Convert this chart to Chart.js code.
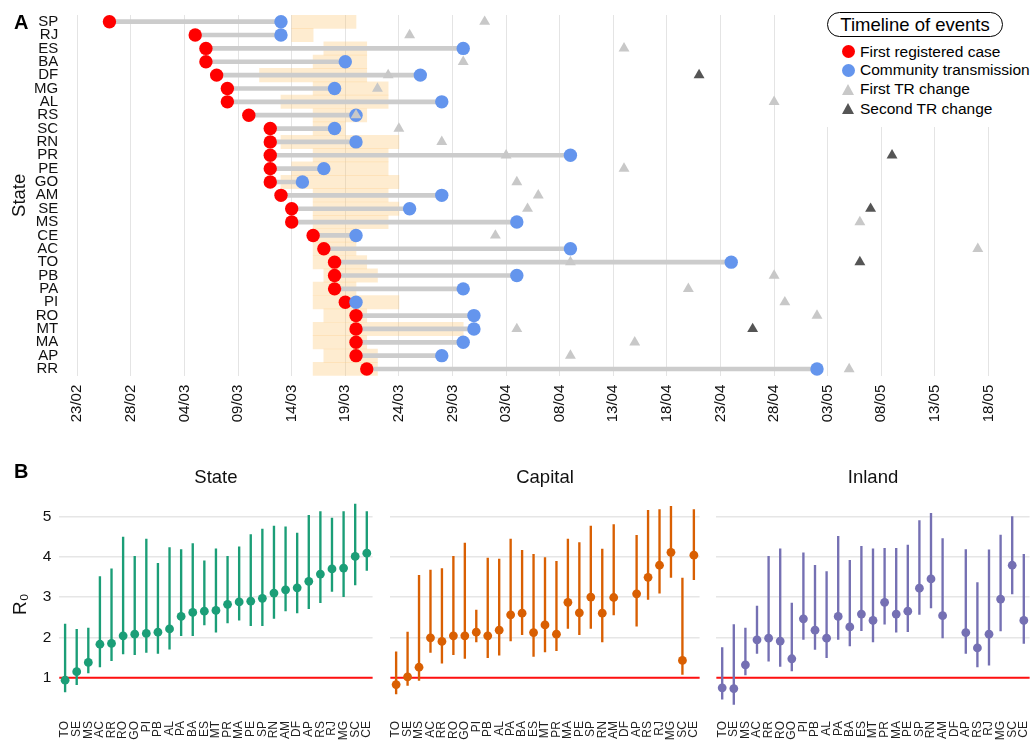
<!DOCTYPE html>
<html><head><meta charset="utf-8">
<script src="https://cdn.jsdelivr.net/npm/chart.js@4.4.1/dist/chart.umd.min.js"></script>
<style>
html,body{margin:0;padding:0;background:#fff;}
body{width:1034px;height:741px;position:relative;overflow:hidden;font-family:'Liberation Sans',Arial,Helvetica,sans-serif;color:#000;}
canvas{position:absolute;display:block;}
.tag{position:absolute;left:14px;font-weight:bold;font-size:20px;line-height:20px;}
#legendBg{position:absolute;left:824px;top:0;width:210px;height:127px;background:#fff;}
.pill{position:absolute;left:827px;top:12px;width:174px;height:23px;border:1px solid #000;border-radius:13px;font-size:18.5px;line-height:23px;text-align:center;white-space:nowrap;}
.item{position:absolute;left:860px;font-size:15.5px;line-height:18px;white-space:nowrap;}
.dot{position:absolute;left:842px;width:13px;height:13px;border-radius:50%;}
.tri{position:absolute;left:842px;width:0;height:0;border-left:6.5px solid transparent;border-right:6.5px solid transparent;border-bottom:11px solid #c8c8c8;}
</style></head>
<body>
<canvas id="cA" width="1034" height="440" style="left:0;top:0;width:1034px;height:440px"></canvas>
<canvas id="cB1" width="377" height="291" style="left:0;top:450px;width:377px;height:291px"></canvas>
<canvas id="cB2" width="318" height="291" style="left:386px;top:450px;width:318px;height:291px"></canvas>
<canvas id="cB3" width="322" height="291" style="left:712px;top:450px;width:322px;height:291px"></canvas>

<div class="tag" style="top:12.4px">A</div>
<div class="tag" style="top:461.4px">B</div>

<div id="legendBg"></div>
<div class="pill">Timeline of events</div>
<div class="dot" style="top:45.2px;background:#ff0000"></div>
<div class="item" style="top:42.9px">First registered case</div>
<div class="dot" style="top:63.5px;background:#6495ed"></div>
<div class="item" style="top:61.2px">Community transmission</div>
<div class="tri" style="top:83.5px;border-bottom-color:#c8c8c8"></div>
<div class="item" style="top:80.2px">First TR change</div>
<div class="tri" style="top:102.8px;border-bottom-color:#555555"></div>
<div class="item" style="top:99.5px">Second TR change</div>

<script>
// ---------------- Panel A data ----------------
const states = ['SP','RJ','ES','BA','DF','MG','AL','RS','SC','RN','PR','PE','GO','AM','SE','MS','CE','AC','TO','PB','PA','PI','RO','MT','MA','AP','RR'];
const firstCase = ['26/02','05/03','06/03','06/03','07/03','08/03','08/03','10/03','12/03','12/03','12/03','12/03','12/03','13/03','14/03','14/03','16/03','17/03','18/03','18/03','18/03','19/03','20/03','20/03','20/03','20/03','21/03'];
const communityTransmission = ['13/03','13/03','30/03','19/03','26/03','18/03','28/03','20/03','18/03','20/03','09/04','17/03','15/03','28/03','25/03','04/04','20/03','09/04','24/04','04/04','30/03','20/03','31/03','31/03','30/03','28/03','02/05'];
const firstTRChange = ['01/04','25/03','14/04','30/03','23/03','22/03','28/04','20/03','24/03','28/03','03/04','14/04','04/04','06/04','05/04','06/05','02/04','17/05','09/04','28/04','20/04','29/04','02/05','04/04','15/04','09/04','05/05'];
const secondTRChange = [null,null,null,null,'21/04',null,null,null,null,null,'09/05',null,null,null,'07/05',null,null,null,'06/05',null,null,null,null,'26/04',null,null,null];
const windowStart = ['14/03','14/03','17/03','16/03','11/03','16/03','13/03','16/03','16/03','13/03','16/03','14/03','13/03','16/03','16/03','16/03','16/03','16/03','16/03','17/03','16/03','16/03','17/03','16/03','16/03','17/03','16/03'];
const windowEnd = ['20/03','16/03','21/03','21/03','21/03','23/03','23/03','21/03','19/03','24/03','23/03','23/03','24/03','23/03','24/03','23/03','20/03','20/03','21/03','22/03','20/03','24/03','21/03','30/03','21/03','22/03','22/03'];
const dateTickLabels = ['23/02','28/02','04/03','09/03','14/03','19/03','24/03','29/03','03/04','08/04','13/04','18/04','23/04','28/04','03/05','08/05','13/05','18/05'];

// ---------------- Panel B data ----------------
const r0States = ['TO','SE','MS','AC','RR','RO','GO','PI','PB','AL','PA','BA','ES','MT','PR','MA','PE','SP','RN','AM','DF','AP','RS','RJ','MG','SC','CE'];
const stateMid  = [0.94,1.15,1.38,1.83,1.85,2.04,2.08,2.10,2.13,2.21,2.52,2.62,2.65,2.67,2.82,2.88,2.90,2.97,3.10,3.18,3.23,3.39,3.57,3.70,3.72,4.01,4.09];
const stateLow  = [0.65,0.83,1.12,1.27,1.42,1.59,1.57,1.63,1.60,1.71,2.04,2.04,2.31,2.13,2.36,2.43,2.29,2.29,2.47,2.66,2.61,2.71,2.86,3.14,3.01,3.30,3.66];
const stateHigh = [2.33,2.20,2.23,3.51,3.70,4.49,4.01,4.44,3.84,4.23,4.18,4.33,3.90,4.20,4.01,4.25,4.55,4.69,4.76,4.74,4.59,5.03,5.12,4.96,5.12,5.31,5.12];
const capitalMid  = [0.83,1.02,1.26,1.99,1.90,2.04,2.04,2.13,2.04,2.18,2.56,2.60,2.12,2.31,2.08,2.87,2.61,3.00,2.60,2.99,null,3.08,3.49,3.79,4.11,1.43,4.04];
const capitalLow  = [0.60,0.81,0.93,1.63,1.36,1.57,1.48,1.89,1.50,1.56,1.91,2.07,1.53,1.64,1.67,2.22,2.07,2.22,1.89,2.56,null,2.28,2.94,3.10,3.49,1.08,3.43];
const capitalHigh = [1.64,2.13,3.54,3.67,3.71,4.01,4.34,2.68,3.97,3.94,4.44,4.16,4.06,3.98,3.89,4.44,4.35,4.76,4.19,4.80,null,4.53,5.15,5.17,5.25,3.47,5.17];
const inlandMid  = [0.75,0.73,1.32,1.94,1.98,1.91,1.47,2.46,2.18,1.98,2.52,2.26,2.58,2.42,2.87,2.58,2.65,3.22,3.45,2.54,null,2.12,1.74,2.08,2.95,3.79,2.42];
const inlandLow  = [0.47,0.34,1.07,1.60,1.41,1.28,1.17,1.95,1.70,1.50,1.95,1.79,2.17,1.89,2.33,2.13,2.14,2.57,2.73,1.99,null,1.60,1.27,1.31,2.16,3.08,1.85];
const inlandHigh = [1.75,2.32,2.23,2.78,4.01,4.20,2.85,4.10,3.79,3.63,4.51,3.91,4.26,4.20,4.21,4.21,4.29,4.90,5.08,4.45,null,4.18,3.36,4.17,4.54,5.00,4.06];
const r0TickValues = [1,2,3,4,5];
const R0_THRESHOLD = 1;

// ---------------- helpers ----------------
const ORIGIN = Date.UTC(2020,1,23);
function dayOf(s){ const [d,m] = s.split('/').map(Number); return Math.round((Date.UTC(2020,m-1,d)-ORIGIN)/86400000); }
const dateTickDays = dateTickLabels.map(dayOf);

Chart.defaults.font.family = "'Liberation Sans', Arial, Helvetica, sans-serif";
Chart.defaults.color = '#111';
Chart.defaults.animation = false;
Chart.defaults.events = [];
Chart.defaults.plugins.legend.display = false;
Chart.defaults.plugins.tooltip.enabled = false;

function pts(arr){ return states.map((s,i)=> arr[i] ? {x: dayOf(arr[i]), y: s} : null).filter(p=>p); }

// ---------------- Panel A ----------------
new Chart(document.getElementById('cA'), {
  type: 'bar',
  data: {
    labels: states,
    datasets: [
      { type:'scatter', indexAxis:'x', data: pts(secondTRChange), pointStyle:'triangle', pointRadius:6.3, backgroundColor:'#555555', borderWidth:0, order:0 },
      { type:'scatter', indexAxis:'x', data: pts(firstTRChange), pointStyle:'triangle', pointRadius:6.3, backgroundColor:'#c8c8c8', borderWidth:0, order:1 },
      { type:'scatter', indexAxis:'x', data: pts(communityTransmission), pointRadius:6.7, backgroundColor:'#6495ed', borderWidth:0, order:2 },
      { type:'scatter', indexAxis:'x', data: pts(firstCase), pointRadius:6.7, backgroundColor:'#ff0000', borderWidth:0, order:3 },
      { type:'bar', indexAxis:'y', data: states.map((s,i)=>[dayOf(firstCase[i]), dayOf(communityTransmission[i])]), backgroundColor:'#cccccc', barThickness:4, grouped:false, borderWidth:0, order:4 },
      { type:'bar', indexAxis:'y', data: states.map((s,i)=>[dayOf(windowStart[i]), dayOf(windowEnd[i])]), backgroundColor:'rgba(253,200,120,0.35)', barPercentage:1, categoryPercentage:1, grouped:false, borderWidth:0, order:5 }
    ]
  },
  options: {
    responsive:false, devicePixelRatio:1, indexAxis:'y',
    layout:{ padding:{ top:15, right:29.4, left:0, bottom:0 } },
    scales: {
      x: { type:'linear', position:'bottom', min:-1.5, max:86.5,
        afterBuildTicks: s => { s.ticks = dateTickDays.map(v=>({value:v})); },
        afterFit: s => { s.height = 64.3; s.paddingLeft = 0; s.paddingRight = 0; },
        grid:{ color:'#e4e4e4', lineWidth:1, drawTicks:false },
        border:{ display:false },
        ticks:{ autoSkip:false, maxRotation:90, minRotation:90, padding:9, font:{size:15}, color:'#111',
          callback:(v,i)=> dateTickLabels[i] }
      },
      y: { type:'category', labels: states, offset:true,
        grid:{ display:false, drawTicks:false }, border:{ display:false },
        ticks:{ autoSkip:false, padding:3, font:{size:15}, color:'#111' },
        title:{ display:true, text:'State', font:{size:18.5}, color:'#111', padding:{top:9,bottom:0} },
        afterFit: s => { s.width = 61.2; s.paddingTop = 0; s.paddingBottom = 0; }
      }
    }
  }
});

// ---------------- Panel B ----------------
const refLine = { id:'refLine', beforeDatasetsDraw(chart){
  const {ctx, chartArea:a, scales:{y}} = chart; const py = y.getPixelForValue(R0_THRESHOLD);
  ctx.save(); ctx.strokeStyle='#ff1010'; ctx.lineWidth=2; ctx.beginPath(); ctx.moveTo(a.left,py); ctx.lineTo(a.right,py); ctx.stroke(); ctx.restore(); } };
const facetTitle = { id:'facetTitle', afterDraw(chart, args, opts){
  const {ctx, chartArea:a} = chart; ctx.save(); ctx.fillStyle='#111'; ctx.font="18.5px 'Liberation Sans', Arial, sans-serif";
  ctx.textAlign='center'; ctx.textBaseline='middle'; ctx.fillText(opts.text, (a.left+a.right)/2, 28); ctx.restore(); } };

function facet(id, title, mid, low, high, color, yWidth, padRight, showY){
  new Chart(document.getElementById(id), {
    type:'bar',
    data:{ labels:r0States, datasets:[
      { type:'line', data: mid, showLine:false, pointRadius:4.4, pointBackgroundColor:color, pointBorderWidth:0, order:0 },
      { type:'bar', data: low.map((l,i)=> l==null ? null : [l, high[i]]), backgroundColor:color, barThickness:1.7, borderWidth:0, order:1 }
    ]},
    options:{
      responsive:false, devicePixelRatio:1,
      layout:{ padding:{ top:44.3, right:padRight, left:0, bottom:0 } },
      plugins:{ facetTitle:{ text:title } },
      scales:{
        x:{ type:'category', offset:true, grid:{display:false, drawTicks:false}, border:{display:false},
          ticks:{ autoSkip:false, maxRotation:90, minRotation:90, padding:7, font:{size:12}, color:'#222' },
          afterFit: s => { s.height = 27; s.paddingLeft = 0; s.paddingRight = 0; } },
        y:{ type:'linear', min:0.1, max:5.55,
          afterBuildTicks: s => { s.ticks = r0TickValues.map(v=>({value:v})); },
          grid:{ color:'#e6e6e6', lineWidth:1.5, drawTicks:false }, border:{display:false},
          ticks:{ display:showY, padding:8, font:{size:15.5}, color:'#111' },
          title:{ display:showY, text:'R₀', font:{size:19}, color:'#111', padding:{top:9,bottom:0} },
          afterFit: s => { s.width = yWidth; s.paddingTop = 0; s.paddingBottom = 0; } }
      }
    },
    plugins:[refLine, facetTitle]
  });
}
facet('cB1','State',  stateMid,  stateLow,  stateHigh,  '#1b9e77', 59.3, 0.3, true);
facet('cB2','Capital',capitalMid,capitalLow,capitalHigh,'#d95f02', 0,    0.7, false);
facet('cB3','Inland', inlandMid, inlandLow, inlandHigh, '#7570b3', 0.7,  3.3, false);
</script>
</body></html>
